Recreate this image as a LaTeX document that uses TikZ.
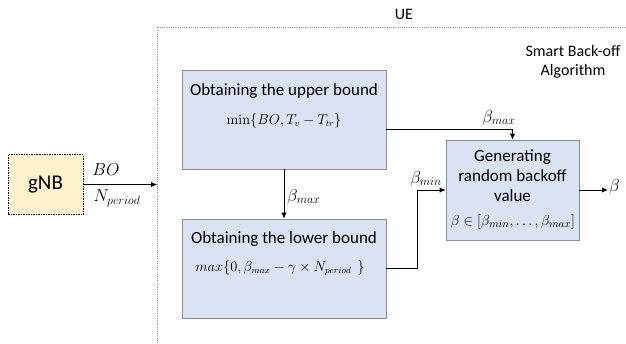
\documentclass[tikz,border=0pt]{standalone}
\usepackage[no-math]{fontspec}
\setmainfont{Carlito}
\usetikzlibrary{arrows.meta,calc}
\definecolor{boxblue}{HTML}{DAE3F3}
\definecolor{boxgold}{HTML}{FFF2CC}
\definecolor{edgegray}{HTML}{8C8C8C}
\tikzset{
  procbox/.style={draw=edgegray,fill=boxblue,line width=0.8pt,inner sep=0pt},
  link/.style={line width=0.9pt,-{Latex[length=6pt,width=5.5pt]}},
  boxtext/.style={font=\fontsize{17}{20}\selectfont,inner sep=0pt},
  mathtext/.style={font=\fontsize{13.5}{16}\selectfont,inner sep=0pt},
  siglabel/.style={font=\fontsize{17}{20}\selectfont,inner sep=0pt},
}
\begin{document}
\begin{tikzpicture}[x=1pt,y=-1pt]
\useasboundingbox (0,0) rectangle (626,343);
\fill[white] (0,0) rectangle (626,343);

% UE region
\draw[edgegray,line width=0.7pt,dash pattern=on 1pt off 1.2pt] (157,343) -- (157,27) -- (626,27);
\node[boxtext,font=\fontsize{16}{19}\selectfont] (ue) at (404,14) {UE};
\node[boxtext,align=center,font=\fontsize{16}{19}\selectfont] (sba) at (573,62) {Smart Back-off\\Algorithm};

% base station
\node[draw=black,fill=boxgold,line width=0.8pt,dash pattern=on 1.5pt off 1pt,
      minimum width=75pt,minimum height=60pt,inner sep=0pt,
      font=\fontsize{21}{23}\selectfont] (gnb) at (45.5,184.5) {gNB};
\coordinate (uein) at (157,184.5);

% processing blocks
\node[procbox,minimum width=204pt,minimum height=99pt] (upper) at (284,119.5) {};
\node[boxtext] (uppert) at (284,91) {Obtaining the upper bound};
\node[mathtext] (upperf) at (284,121) {$\min\{BO,T_v-T_{tr}\}$};

\node[procbox,minimum width=204pt,minimum height=99pt] (lower) at (284,268.5) {};
\node[boxtext] (lowert) at (284,239) {Obtaining the lower bound};
\node[mathtext] (lowerf) at (280,268) {$max\{0,\beta_{max}-\gamma\times N_{period}\ \ \}$};

\node[procbox,minimum width=133pt,minimum height=100pt] (gen) at (512.5,190) {};
\node[boxtext,align=center] (gent) at (512.5,176) {Generating\\random backoff\\value};
\node[mathtext,font=\fontsize{15}{17}\selectfont] (genf) at (513,222) {$\beta\in[\beta_{min},\ldots,\beta_{max}]$};

\coordinate (out) at (608,190);

% connectors
\draw[link] (gnb.east) -- (uein);
\node[siglabel] (bo) at (106,170) {$BO$};
\node[siglabel] (np) at (117,198) {$N_{period}$};

\draw[link] (upper.south) -- (lower.north);
\node[siglabel,anchor=west] (bmax1) at (287,197) {$\beta_{max}$};

\draw[link] ($(upper.east)+(0,9.5)$) -| (gen.north);
\node[siglabel] (bmax2) at (499,118) {$\beta_{max}$};

\draw[link] (lower.east) -- ++(31,0) |- (gen.west);
\node[siglabel] (bmin) at (426,179) {$\beta_{min}$};

\draw[link] (gen.east) -- (out);
\node[siglabel,anchor=west] (beta) at (609,187) {$\beta$};
\end{tikzpicture}
\end{document}
